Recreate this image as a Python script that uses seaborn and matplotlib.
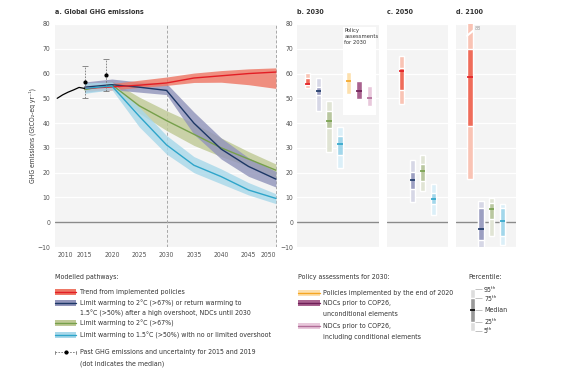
import pandas as pd
import seaborn as sns
from matplotlib import pyplot as plt
from matplotlib import font_manager
from matplotlib.patches import Rectangle
from matplotlib.lines import Line2D

# ---- panel a: historical emissions and modelled pathways (GtCO2-eq/yr)
hist_years = [2010, 2011, 2012, 2013, 2014, 2015]
hist_ghg = [50.0, 51.4, 52.5, 53.4, 54.4, 54.0]

err_years = [2015, 2019]
err_median = [56.6, 59.4]
err_low = [50.2, 53.0]
err_high = [63.2, 65.9]

years = [2015, 2020, 2025, 2030, 2035, 2040, 2045, 2050]

red_med = [54.0, 54.6, 55.3, 56.2, 58.2, 59.1, 60.0, 60.6]
red_low = [53.0, 53.4, 54.4, 55.2, 56.4, 56.5, 55.5, 54.0]
red_high = [55.2, 56.0, 57.3, 58.6, 60.2, 61.2, 61.9, 62.3]

navy_med = [54.5, 55.5, 54.5, 53.2, 40.0, 29.5, 22.5, 17.4]
navy_low = [52.5, 53.5, 52.5, 51.5, 35.5, 25.5, 18.5, 14.2]
navy_high = [56.6, 57.8, 56.6, 56.0, 44.5, 34.0, 26.0, 20.5]

green_med = [53.5, 55.5, 47.0, 41.0, 35.5, 30.0, 25.5, 21.0]
green_low = [52.5, 54.0, 44.0, 37.0, 31.0, 26.5, 22.5, 18.0]
green_high = [55.0, 57.0, 50.5, 45.0, 40.0, 34.0, 28.5, 23.5]

blue_med = [54.0, 55.0, 42.8, 31.2, 23.0, 18.4, 13.0, 9.6]
blue_low = [52.0, 53.5, 38.5, 27.5, 20.0, 15.5, 11.0, 7.5]
blue_high = [56.2, 56.6, 46.5, 35.0, 26.5, 21.5, 16.0, 11.5]

# ---- panels b-d: percentiles 5, 25, 50, 75, 95
pct_2030 = {
    "red": [54.2, 55.5, 55.8, 58.4, 60.2],
    "navy": [44.7, 51.4, 53.0, 54.5, 58.2],
    "green": [28.5, 37.9, 40.7, 45.0, 49.1],
    "blue": [22.0, 27.1, 31.5, 34.8, 38.6],
}
pct_2050 = {
    "red": [47.8, 53.4, 61.0, 62.2, 67.2],
    "navy": [8.2, 13.6, 17.0, 20.4, 25.1],
    "green": [12.8, 16.7, 20.8, 23.5, 27.1],
    "blue": [2.8, 7.3, 9.5, 11.6, 15.4],
}
pct_2100 = {
    "red": [17.4, 39.0, 58.8, 70.0, 88.0],
    "navy": [-11.6, -7.3, -2.6, 5.9, 8.5],
    "green": [-5.7, 1.2, 5.5, 7.8, 9.8],
    "blue": [-9.3, -5.7, 0.5, 5.9, 7.3],
}
# policy assessments 2030: low, median, high
policy_low = [51.7, 49.8, 47.0]
policy_med = [57.0, 53.0, 50.0]
policy_high = [60.5, 57.1, 55.1]

# colours: line, band, bar light, bar dark
cols = {
    "red": ("#e31e25", "#ee7866", "#f9c3b4", "#ef6c5a"),
    "navy": ("#1c3766", "#9295bb", "#d6d7e6", "#9c9fc2"),
    "green": ("#76a04b", "#c0ca96", "#e0e4d4", "#b9c79f"),
    "blue": ("#2ea5ca", "#a9d8ea", "#dbeff8", "#a2d7eb"),
}
policy_cols = [("#f5a623", "#fde0ad"), ("#6e1f57", "#a9628f"), ("#b06c98", "#e8c8db")]
TXT = "#333333"
TICK = "#555555"

sns.set_theme(style="whitegrid", rc={
    "axes.facecolor": "#f4f4f4", "grid.color": "white", "grid.linewidth": 0.9,
    "axes.edgecolor": "none", "xtick.color": TICK, "ytick.color": TICK,
})

# narrow font if there is one, otherwise shrink sizes to keep text widths
fonts = {(f.name, f.stretch) for f in font_manager.fontManager.ttflist}
names = {n for n, _ in fonts}
if "Liberation Sans Narrow" in names:
    plt.rcParams["font.family"] = ["Liberation Sans Narrow", "DejaVu Sans"]
    k = 1.0
elif any(n == "DejaVu Sans" and s != "normal" for n, s in fonts):
    plt.rcParams["font.family"] = ["DejaVu Sans"]
    plt.rcParams["font.stretch"] = "condensed"
    k = 0.87
else:
    plt.rcParams["font.family"] = ["DejaVu Sans"]
    k = 0.78
FS = 5.8 * k
FT = 5.9 * k
FK = 5.6 * k

fig = plt.figure(figsize=(5.74, 3.78), dpi=100)
W, H = 574, 378


def fx(x):
    return x / W


def fy(y):
    return 1 - y / H


bottom, height = fy(247), (247 - 24) / H
ax_a = fig.add_axes([fx(55), bottom, fx(222), height])
ax_b = fig.add_axes([fx(297), bottom, fx(82), height])
ax_c = fig.add_axes([fx(387), bottom, fx(61), height])
ax_d = fig.add_axes([fx(456), bottom, fx(60), height])

for ax in (ax_a, ax_b, ax_c, ax_d):
    ax.set_ylim(-10, 80)
    ax.set_yticks(range(-10, 81, 10))
    ax.grid(axis="x", visible=False)
    ax.tick_params(axis="both", labelsize=FK, length=0, pad=3.5)
    ax.axhline(0, color="#8a8a8a", lw=1.0, zorder=2)

# ---- panel a
bands = [("green", green_low, green_high), ("navy", navy_low, navy_high),
         ("red", red_low, red_high), ("blue", blue_low, blue_high)]
for key, lo, hi in bands:
    ax_a.fill_between(years, lo, hi, color=cols[key][1], alpha=0.82, lw=0, zorder=3)

df = pd.concat([
    pd.DataFrame({"year": years, "ghg": green_med, "path": "green"}),
    pd.DataFrame({"year": years, "ghg": navy_med, "path": "navy"}),
    pd.DataFrame({"year": years, "ghg": red_med, "path": "red"}),
    pd.DataFrame({"year": years, "ghg": blue_med, "path": "blue"}),
])
sns.lineplot(data=df, x="year", y="ghg", hue="path", ax=ax_a, lw=1.0,
             palette={k2: v[0] for k2, v in cols.items()}, legend=False, zorder=4)
ax_a.plot(hist_years, hist_ghg, color="black", lw=0.9, zorder=4)

eb = ax_a.errorbar(err_years, err_median,
                   yerr=[[m - l for m, l in zip(err_median, err_low)],
                         [h - m for m, h in zip(err_median, err_high)]],
                   fmt="o", ms=2, color="black", ecolor="#777777",
                   elinewidth=0.6, capsize=2, capthick=0.6, zorder=5)
eb[2][0].set_linestyle((0, (2, 1.5)))

for yr in (2030, 2050):
    ax_a.axvline(yr, color="#a8a8a8", ls=(0, (3, 2)), lw=0.7, zorder=2)

ax_a.set_xlim(2009.6, 2050.2)
ax_a.set_xticks(range(2010, 2051, 5))
xl = ax_a.get_xticklabels()
xl[0].set_ha("left")
xl[-1].set_ha("right")
ax_a.set_xlabel("")
ax_a.set_ylabel("GHG emissions (GtCO₂-eq yr⁻¹)", fontsize=FK, color=TXT)
ax_a.yaxis.set_label_coords(-0.085, 0.5)
ax_a.set_title("a. Global GHG emissions", loc="left", fontsize=FT, fontweight="bold",
               color=TXT, pad=7)


# ---- panels b-d: percentile bars
def pct_bars(ax, stats, w=0.5):
    for x, key in enumerate(["red", "navy", "green", "blue"]):
        p5, p25, p50, p75, p95 = stats[key]
        ax.bar(x, p95 - p5, bottom=p5, width=w, color=cols[key][2], zorder=3)
        ax.bar(x, p75 - p25, bottom=p25, width=w, color=cols[key][3], zorder=3)
        ax.hlines(p50, x - w / 2, x + w / 2, color=cols[key][0], lw=1.2, zorder=4)


pct_bars(ax_b, pct_2030)
pct_bars(ax_c, pct_2050)
pct_bars(ax_d, pct_2100)

# policy assessment box in panel b
ax_b.add_patch(Rectangle((3.3, 43.3), 3.1, 35.5, color="white", lw=0, zorder=2.5))
ax_b.text(3.42, 78.3, "Policy\nassessments\nfor 2030", fontsize=4.9 * k, color=TXT,
          va="top", ha="left", linespacing=1.2, zorder=5)
policy_x = [3.8, 4.8, 5.75]
for x, lo, med, hi, (lc, fc) in zip(policy_x, policy_low, policy_med, policy_high, policy_cols):
    ax_b.bar(x, hi - lo, bottom=lo, width=0.5, color=fc, zorder=3)
    ax_b.hlines(med, x - 0.25, x + 0.25, color=lc, lw=1.2, zorder=4)

ax_b.set_xlim(-1.0, 6.65)
ax_c.set_xlim(-1.4, 4.4)
ax_d.set_xlim(-1.3, 4.25)
ax_b.tick_params(axis="y", pad=2.5)
for ax in (ax_b, ax_c, ax_d):
    ax.set_xticks([])
for ax in (ax_c, ax_d):
    ax.tick_params(axis="y", labelleft=False)

# broken bar in 2100 panel
ax_d.plot([-0.35, 0.35], [75.0, 77.5], color="white", lw=1.5, zorder=5, solid_capstyle="butt")
ax_d.text(0.42, 78.3, "88", fontsize=4.5 * k, color="#999999", va="center", ha="left", zorder=5)

for ax, t in ((ax_b, "b. 2030"), (ax_c, "c. 2050"), (ax_d, "d. 2100")):
    ax.set_title(t, loc="left", fontsize=FT, fontweight="bold", color=TXT, pad=7)


# ---- legends (keys placed in figure pixels)
def key_band(x0, y, band, line, w=21, h=6):
    fig.add_artist(Rectangle((fx(x0), fy(y + h / 2)), fx(w), h / H, color=band,
                             lw=0, transform=fig.transFigure))
    fig.add_artist(Line2D([fx(x0), fx(x0 + w)], [fy(y), fy(y)], color=line, lw=1.0,
                          transform=fig.transFigure))


def key_text(x, y, s):
    fig.text(fx(x), fy(y), s, fontsize=FS, color=TXT, va="center", ha="left")


key_text(55, 277, "Modelled pathways:")
mod_rows = [("red", 292, ["Trend from implemented policies"]),
            ("navy", 303, ["Limit warming to 2°C (>67%) or return warming to",
                           "1.5°C (>50%) after a high overshoot, NDCs until 2030"]),
            ("green", 323, ["Limit warming to 2°C (>67%)"]),
            ("blue", 335, ["Limit warming to 1.5°C (>50%) with no or limited overshoot"])]
for key, y, lines in mod_rows:
    key_band(55, y, cols[key][1], cols[key][0])
    for i, s in enumerate(lines):
        key_text(79.5, y + i * 10.5, s)

# past emissions key
fig.add_artist(Line2D([fx(55), fx(76)], [fy(352), fy(352)], color="#777777", lw=0.6,
                      ls=(0, (2, 1.5)), transform=fig.transFigure))
for cx in (55, 76):
    fig.add_artist(Line2D([fx(cx), fx(cx)], [fy(350.5), fy(353.5)], color="#777777",
                          lw=0.6, transform=fig.transFigure))
fig.add_artist(Line2D([fx(66)], [fy(352)], marker="o", ms=2, color="black", lw=0,
                      transform=fig.transFigure))
key_text(79.5, 352, "Past GHG emissions and uncertainty for 2015 and 2019")
key_text(79.5, 364, "(dot indicates the median)")

key_text(298, 277, "Policy assessments for 2030:")
pol_rows = [(292.5, ["Policies implemented by the end of 2020"]),
            (303, ["NDCs prior to COP26,", "unconditional elements"]),
            (326, ["NDCs prior to COP26,", "including conditional elements"])]
for (lc, fc), (y, lines) in zip(policy_cols, pol_rows):
    key_band(298, y, fc, lc, w=22)
    for i, s in enumerate(lines):
        key_text(323, y + i * 10.5, s)

# percentile key
key_text(468, 277, "Percentile:")
ax_p = fig.add_axes([fx(470), fy(335), fx(5), 50 / H])
ax_p.set_facecolor("none")
ax_p.grid(False)
ax_p.bar(0, 90, bottom=5, width=1, color="#dddddd")
ax_p.bar(0, 50, bottom=25, width=1, color="#999999")
ax_p.hlines(50, -0.5, 0.5, color="black", lw=1.2)
ax_p.set_xlim(-0.5, 0.5)
ax_p.set_ylim(-4, 104)
ax_p.set_xticks([])
ax_p.yaxis.tick_right()
ax_p.set_yticks([5, 25, 50, 75, 95],
                ["5ᵗʰ", "25ᵗʰ", "Median", "75ᵗʰ", "95ᵗʰ"])
ax_p.tick_params(axis="y", length=5, width=0.5, color="#aaaaaa", labelsize=FS,
                 labelcolor=TXT, pad=1.5)

fig.savefig("out.png", dpi=100)
